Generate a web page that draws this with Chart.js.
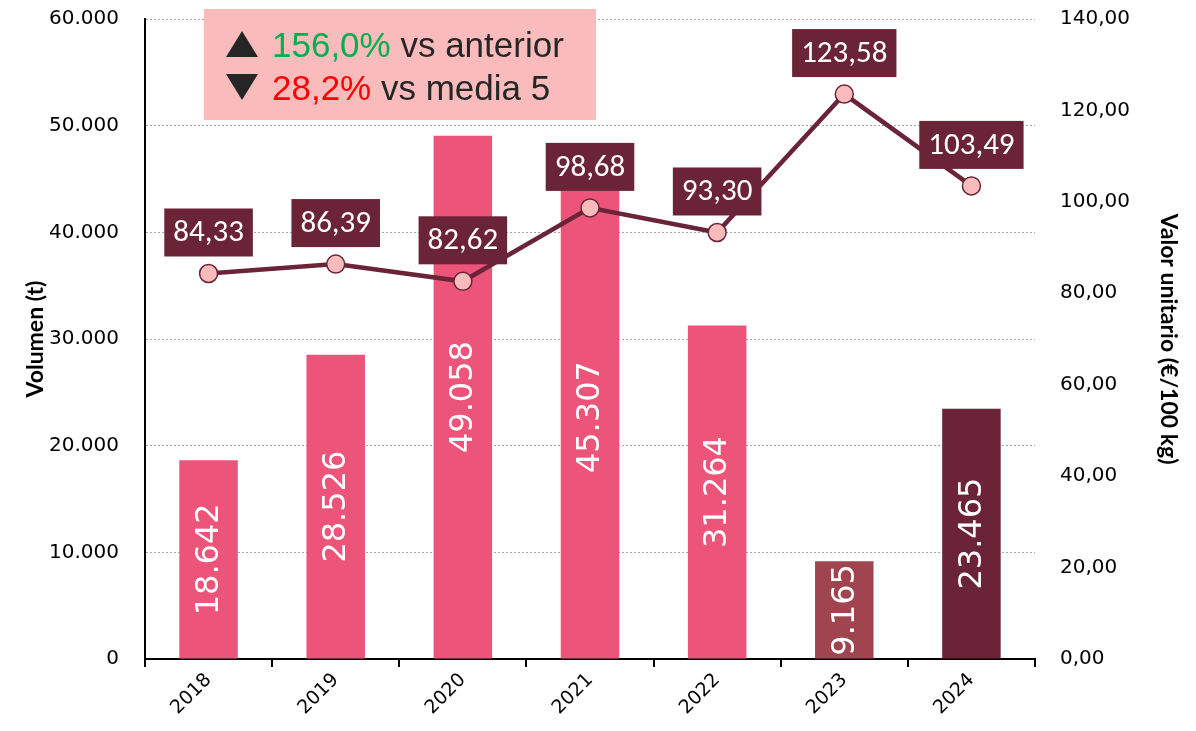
<!DOCTYPE html>
<html lang="es">
<head>
<meta charset="UTF-8">
<title>Volumen y valor unitario</title>
<script src="https://cdn.jsdelivr.net/npm/chart.js"></script>
<style>
  html, body { margin: 0; padding: 0; background: #fff; }
  #wrap { width: 1196px; height: 731px; }
</style>
</head>
<body>
<div id="wrap"><canvas id="chart"></canvas></div>
<script>
// datos
const years = ['2018', '2019', '2020', '2021', '2022', '2023', '2024'];
const volumen = [18642, 28526, 49058, 45307, 31264, 9165, 23465];
const valorUnitario = [84.33, 86.39, 82.62, 98.68, 93.30, 123.58, 103.49];
const barColors = ['#EC547A', '#EC547A', '#EC547A', '#EC547A', '#EC547A', '#A0454F', '#6B2338'];
const notaAnterior = '156,0%';
const notaMedia = '28,2%';

const fmtVol = v => String(v).replace(/\B(?=(\d{3})+(?!\d))/g, '.');
const fmtPrice = v => v.toFixed(2).replace('.', ',');

// etiquetas de barras y de la linea
const labelPlugin = {
  id: 'labels',
  afterDatasetDraw(chart, args) {
    const ctx = chart.ctx;
    const meta = args.meta;
    if (args.index === 0) {
      ctx.save();
      ctx.fillStyle = '#fff';
      ctx.font = '32px "DejaVu Sans"';
      ctx.textAlign = 'center';
      ctx.textBaseline = 'middle';
      meta.data.forEach((el, i) => {
        ctx.save();
        ctx.translate(el.x, (el.y + el.base) / 2);
        ctx.rotate(-Math.PI / 2);
        ctx.fillText(fmtVol(volumen[i]), 0, 1);
        ctx.restore();
      });
      ctx.restore();
    } else {
      ctx.save();
      ctx.font = '31px Carlito, Lato, sans-serif';
      ctx.textAlign = 'center';
      ctx.textBaseline = 'middle';
      meta.data.forEach((el, i) => {
        const t = fmtPrice(valorUnitario[i]);
        const w = ctx.measureText(t).width + 18;
        const h = 48;
        const by = el.y - 17 - h;
        ctx.fillStyle = '#6B2338';
        ctx.fillRect(el.x - w / 2, by, w, h);
        ctx.fillStyle = '#fff';
        ctx.fillText(t, el.x, by + h / 2 + 1);
      });
      ctx.restore();
    }
  }
};

// recuadro con las variaciones
const notePlugin = {
  id: 'note',
  afterDraw(chart) {
    const ctx = chart.ctx;
    ctx.save();
    ctx.fillStyle = '#F9BBBB';
    ctx.fillRect(204, 9, 392, 111);
    ctx.fillStyle = '#262626';
    ctx.beginPath();
    ctx.moveTo(226, 57); ctx.lineTo(258, 57); ctx.lineTo(242, 31); ctx.closePath();
    ctx.fill();
    ctx.beginPath();
    ctx.moveTo(226, 74); ctx.lineTo(258, 74); ctx.lineTo(242, 100); ctx.closePath();
    ctx.fill();
    ctx.font = '35px "Liberation Sans"';
    ctx.textBaseline = 'alphabetic';
    ctx.textAlign = 'left';
    let x = 272;
    ctx.fillStyle = '#00B050';
    ctx.fillText(notaAnterior, x, 57);
    x += ctx.measureText(notaAnterior).width;
    ctx.fillStyle = '#262626';
    ctx.fillText(' vs anterior', x, 57);
    x = 272;
    ctx.fillStyle = '#FF0000';
    ctx.fillText(notaMedia, x, 100);
    x += ctx.measureText(notaMedia).width;
    ctx.fillStyle = '#262626';
    ctx.fillText(' vs media 5', x, 100);
    ctx.restore();
  }
};

const tickFont = { family: 'DejaVu Sans', size: 20 };
const titleFont = { family: 'Lato, sans-serif', size: 23, weight: 'bold' };

new Chart(document.getElementById('chart'), {
  data: {
    labels: years,
    datasets: [
      {
        type: 'bar',
        label: 'Volumen (t)',
        data: volumen,
        backgroundColor: barColors,
        yAxisID: 'y',
        barPercentage: 0.46,
        categoryPercentage: 1,
        order: 1
      },
      {
        type: 'line',
        label: 'Valor unitario (€/100 kg)',
        data: valorUnitario,
        borderColor: '#6B2338',
        borderWidth: 4.5,
        pointRadius: 9,
        pointBackgroundColor: '#F9BBBB',
        pointBorderColor: '#6B2338',
        pointBorderWidth: 1.5,
        tension: 0,
        yAxisID: 'y1',
        order: 0
      }
    ]
  },
  options: {
    responsive: true,
    maintainAspectRatio: false,
    animation: false,
    layout: { padding: { top: 19, left: 0, right: 0, bottom: 0 } },
    plugins: { legend: { display: false }, tooltip: { enabled: false } },
    scales: {
      x: {
        grid: { drawOnChartArea: false, drawTicks: true, tickLength: 8, color: '#000', lineWidth: 2, offset: true },
        border: { color: '#000', width: 2 },
        ticks: { color: '#000', font: { family: 'DejaVu Sans', size: 19 }, minRotation: 45, maxRotation: 45, padding: 2 },
        afterFit(s) { s.height = 72; }
      },
      y: {
        position: 'left',
        min: 0,
        max: 60000,
        ticks: { stepSize: 10000, color: '#000', font: tickFont, padding: 26, callback: v => fmtVol(v) },
        grid: { color: '#A6A6A6', lineWidth: 1, drawTicks: false },
        border: { color: '#000', width: 2, dash: [2, 2] },
        title: { display: true, text: 'Volumen (t)', color: '#000', font: titleFont, padding: { top: 22, bottom: 0 } },
        afterFit(s) { s.width = 145; s.paddingTop = 0; s.paddingBottom = 0; }
      },
      y1: {
        position: 'right',
        min: 0,
        max: 140,
        ticks: { stepSize: 20, color: '#000', font: tickFont, padding: 25, callback: v => fmtPrice(v) },
        grid: { display: false, drawTicks: false },
        border: { display: false },
        title: { display: true, text: 'Valor unitario (€/100 kg)', color: '#000', font: titleFont, padding: { top: 14, bottom: 0 } },
        afterFit(s) { s.width = 161; s.paddingTop = 0; s.paddingBottom = 0; }
      }
    }
  },
  plugins: [labelPlugin, notePlugin]
});
</script>
</body>
</html>
